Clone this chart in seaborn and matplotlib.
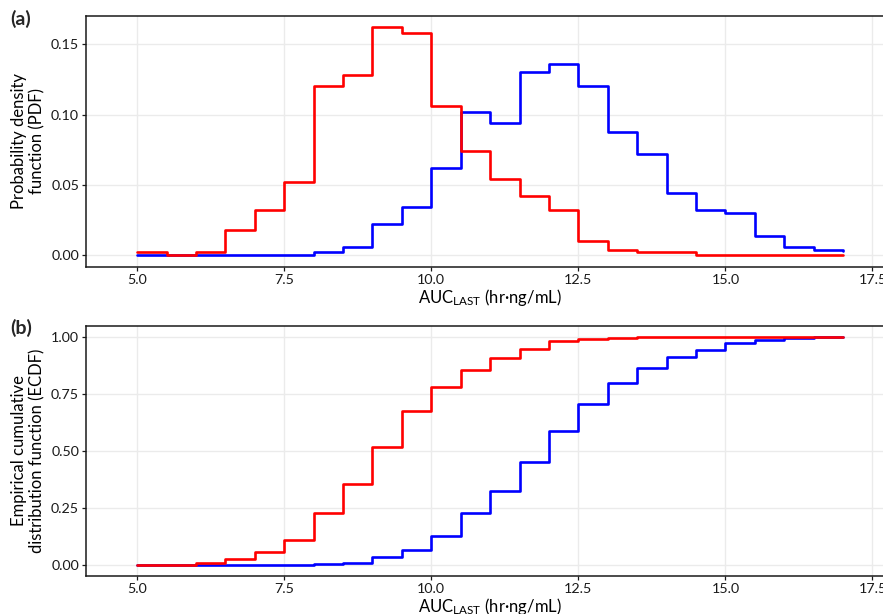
import numpy as np
import pandas as pd
import seaborn as sns
import matplotlib.pyplot as plt

# Bin left edges (last point closes the step at 17.0)
auc = [5.0, 5.5, 6.0, 6.5, 7.0, 7.5, 8.0, 8.5, 9.0, 9.5, 10.0, 10.5,
       11.0, 11.5, 12.0, 12.5, 13.0, 13.5, 14.0, 14.5, 15.0, 15.5, 16.0, 16.5, 17.0]

# PDF
pdf_red = [0.002, 0.000, 0.002, 0.018, 0.032, 0.052, 0.120, 0.128, 0.162, 0.158, 0.106, 0.074,
           0.054, 0.042, 0.032, 0.010, 0.004, 0.002, 0.002, 0.000, 0.000, 0.000, 0.000, 0.000, 0.000]
pdf_blue = [0.000, 0.000, 0.000, 0.000, 0.000, 0.000, 0.002, 0.006, 0.022, 0.034, 0.062, 0.102,
            0.094, 0.130, 0.136, 0.120, 0.088, 0.072, 0.044, 0.032, 0.030, 0.014, 0.006, 0.004, 0.003]

# ECDF
ecdf_red = [0.000, 0.000, 0.005, 0.025, 0.055, 0.108, 0.227, 0.355, 0.517, 0.675, 0.780, 0.855,
            0.908, 0.949, 0.981, 0.991, 0.997, 0.999, 0.999, 1.000, 1.000, 1.000, 1.000, 1.000, 1.000]
ecdf_blue = [0.000, 0.000, 0.000, 0.000, 0.000, 0.000, 0.002, 0.008, 0.032, 0.066, 0.127, 0.228,
             0.323, 0.451, 0.588, 0.706, 0.796, 0.866, 0.913, 0.942, 0.974, 0.987, 0.996, 1.000, 1.000]

x_ticks = [5.0, 7.5, 10.0, 12.5, 15.0, 17.5]
pdf_ticks = [0.0, 0.05, 0.10, 0.15]
ecdf_ticks = [0.0, 0.25, 0.50, 0.75, 1.00]

df = pd.concat([
    pd.DataFrame({"auc": auc, "pdf": pdf_blue, "ecdf": ecdf_blue, "group": "B"}),
    pd.DataFrame({"auc": auc, "pdf": pdf_red, "ecdf": ecdf_red, "group": "A"}),
], ignore_index=True)

sns.set_theme(style="whitegrid")
plt.rcParams["font.family"] = ["Lato", "DejaVu Sans"]
plt.rcParams["mathtext.default"] = "regular"

W, H = 883, 614
fig = plt.figure(figsize=(W / 100, H / 100), dpi=100)
ax_a = fig.add_axes([86 / W, (H - 266.7) / H, 808.5 / W, 250.7 / H])
ax_b = fig.add_axes([86 / W, (H - 576) / H, 808.5 / W, 250.3 / H])

palette = {"B": "blue", "A": "red"}
xlabel = "AUC$_{LAST}$ (hr·ng/mL)"

panels = [
    (ax_a, "pdf", pdf_ticks, (-0.0081, 0.1701), "Probability density\nfunction (PDF)"),
    (ax_b, "ecdf", ecdf_ticks, (-0.05, 1.05), "Empirical cumulative\ndistribution function (ECDF)"),
]

for ax, col, yt, ylim, ylab in panels:
    sns.lineplot(data=df, x="auc", y=col, hue="group", palette=palette, estimator=None,
                 drawstyle="steps-post", linewidth=1.9, legend=False, ax=ax)
    ax.set_xlim(4.13, 17.875)
    ax.set_ylim(*ylim)
    ax.set_xticks(x_ticks)
    ax.set_xticklabels([f"{v:.1f}" for v in x_ticks])
    ax.set_yticks(yt)
    ax.set_yticklabels([f"{v:.2f}" for v in yt])
    ax.grid(True, color="#EBEBEB", linewidth=1.0)
    ax.set_facecolor("white")
    for s in ax.spines.values():
        s.set_color("#1a1a1a")
        s.set_linewidth(1.1)
    ax.tick_params(axis="both", which="major", length=3, width=0.9, color="#1a1a1a",
                   labelsize=10.3, labelcolor="#1a1a1a", pad=2, bottom=True, left=True)
    ax.set_xlabel(xlabel, fontsize=12, color="black", labelpad=1)
    ax.set_ylabel(ylab, fontsize=12, color="black", labelpad=4, linespacing=1.2)

fig.text(10 / W, 1 - 10 / H, "(a)", fontsize=14, fontweight="bold", va="top", ha="left")
fig.text(10 / W, 1 - 319 / H, "(b)", fontsize=14, fontweight="bold", va="top", ha="left")

fig.savefig("out.png", dpi=100)
